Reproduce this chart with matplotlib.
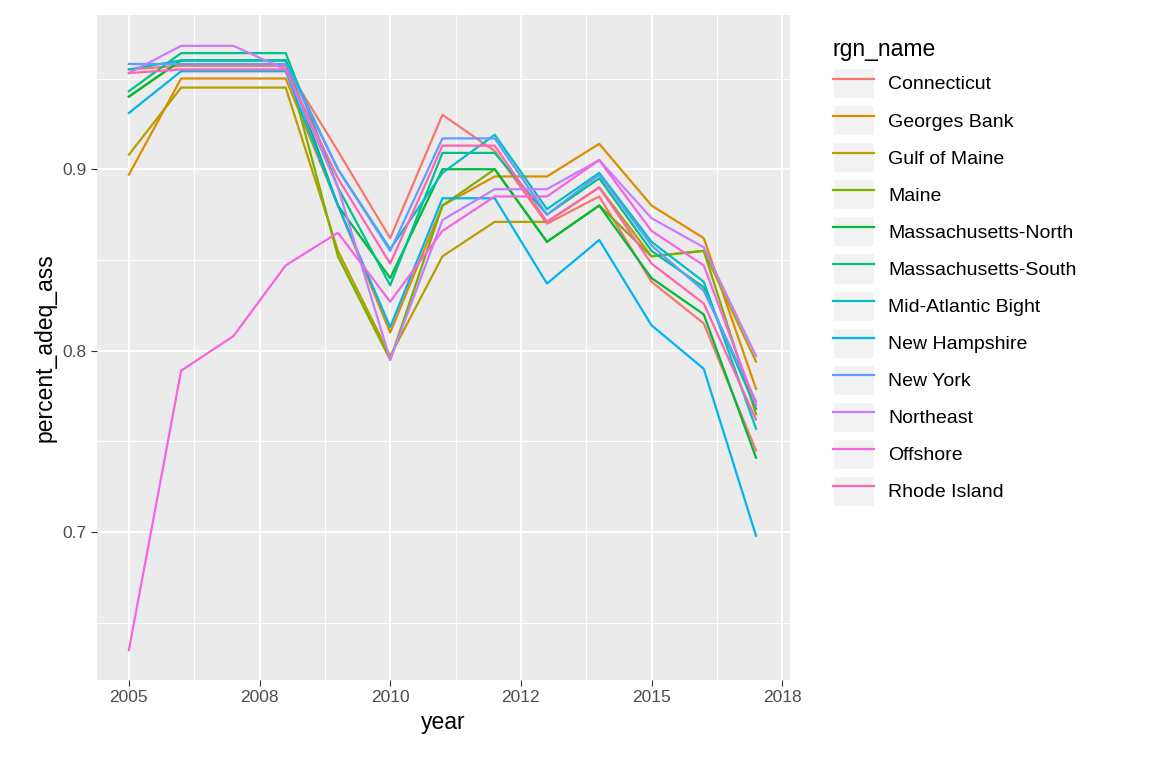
import numpy as np
import matplotlib.pyplot as plt
from matplotlib.lines import Line2D
from matplotlib.patches import Rectangle
from matplotlib.legend_handler import HandlerTuple

plt.rcParams['font.family'] = ['Liberation Sans', 'DejaVu Sans']

years = list(range(2005, 2018))
regions = ['Connecticut', 'Georges Bank', 'Gulf of Maine', 'Maine', 'Massachusetts-North',
           'Massachusetts-South', 'Mid-Atlantic Bight', 'New Hampshire', 'New York',
           'Northeast', 'Offshore', 'Rhode Island']
colors = ['#F8766D', '#DE8C00', '#B79F00', '#7CAE00', '#00BA38', '#00C08B',
          '#00BFC4', '#00B4F0', '#619CFF', '#C77CFF', '#F564E3', '#FF64B0']

connecticut = [0.955, 0.957, 0.957, 0.957, 0.91, 0.862, 0.93, 0.91, 0.87, 0.885, 0.838, 0.815, 0.745]
georges_bank = [0.897, 0.95, 0.95, 0.95, 0.88, 0.81, 0.88, 0.896, 0.896, 0.914, 0.88, 0.862, 0.779]
gulf_of_maine = [0.908, 0.945, 0.945, 0.945, 0.855, 0.797, 0.852, 0.871, 0.871, 0.89, 0.852, 0.855, 0.794]
maine = [0.94, 0.96, 0.96, 0.96, 0.852, 0.795, 0.88, 0.9, 0.86, 0.88, 0.852, 0.855, 0.765]
mass_north = [0.94, 0.96, 0.96, 0.96, 0.88, 0.84, 0.9, 0.9, 0.86, 0.88, 0.84, 0.82, 0.741]
mass_south = [0.943, 0.964, 0.964, 0.964, 0.89, 0.836, 0.909, 0.909, 0.875, 0.895, 0.855, 0.835, 0.768]
mid_atlantic = [0.955, 0.96, 0.96, 0.96, 0.9, 0.856, 0.898, 0.919, 0.878, 0.898, 0.86, 0.838, 0.757]
new_hampshire = [0.931, 0.954, 0.954, 0.954, 0.88, 0.813, 0.884, 0.884, 0.837, 0.861, 0.814, 0.79, 0.698]
new_york = [0.958, 0.958, 0.958, 0.958, 0.9, 0.855, 0.917, 0.917, 0.875, 0.897, 0.858, 0.833, 0.772]
northeast = [0.953, 0.968, 0.968, 0.955, 0.89, 0.795, 0.872, 0.889, 0.889, 0.905, 0.873, 0.857, 0.797]
offshore = [0.635, 0.789, 0.808, 0.847, 0.865, 0.827, 0.866, 0.885, 0.885, 0.905, 0.866, 0.847, 0.77]
rhode_island = [0.953, 0.955, 0.955, 0.955, 0.895, 0.848, 0.913, 0.913, 0.871, 0.89, 0.848, 0.826, 0.762]

series = [connecticut, georges_bank, gulf_of_maine, maine, mass_north, mass_south,
          mid_atlantic, new_hampshire, new_york, northeast, offshore, rhode_island]

xticks = [2005, 2007.5, 2010, 2012.5, 2015, 2017.5]
xticklabels = ['2005', '2008', '2010', '2012', '2015', '2018']
yticks = [0.7, 0.8, 0.9]

fig = plt.figure(figsize=(11.52, 7.68), dpi=100)
ax = fig.add_axes([97/1152, 1-680/768, (790-97)/1152, (680-15)/768])
ax.set_facecolor('#EBEBEB')

for vals, c in zip(series, colors):
    ax.plot(years, vals, color=c, lw=1.6, zorder=3)

ax.set_xlim(2004.39, 2017.65)
ax.set_ylim(0.6185, 0.985)
ax.set_xticks(xticks)
ax.set_xticklabels(xticklabels)
ax.set_yticks(yticks)
ax.set_xticks([2006.25, 2008.75, 2011.25, 2013.75, 2016.25], minor=True)
ax.set_yticks([0.65, 0.75, 0.85, 0.95], minor=True)
ax.grid(which='major', color='white', lw=1.4, zorder=0)
ax.grid(which='minor', color='white', lw=0.7, zorder=0)
ax.set_axisbelow(True)
for s in ax.spines.values():
    s.set_visible(False)
ax.tick_params(which='major', length=4, color='#333333', labelsize=12.5, labelcolor='#4D4D4D')
ax.tick_params(which='minor', length=0)
ax.set_xlabel('year', fontsize=16.5)
ax.set_ylabel('percent_adeq_ass', fontsize=16.5)

handles = [(Rectangle((0, 0), 1, 1, facecolor='#F2F2F2', edgecolor='white'),
            Line2D([], [], color=c, lw=1.6)) for c in colors]
leg = ax.legend(handles, regions, handler_map={tuple: HandlerTuple(ndivide=1, pad=0)},
                title='rgn_name', loc='upper left', bbox_to_anchor=(1.062, 0.965),
                frameon=False, fontsize=14, title_fontsize=16.5, handlelength=2.1,
                handleheight=2.0, labelspacing=0.36, handletextpad=0.75, borderaxespad=0,
                borderpad=0)
leg._legend_box.align = 'left'

fig.savefig('out.png', dpi=100)
